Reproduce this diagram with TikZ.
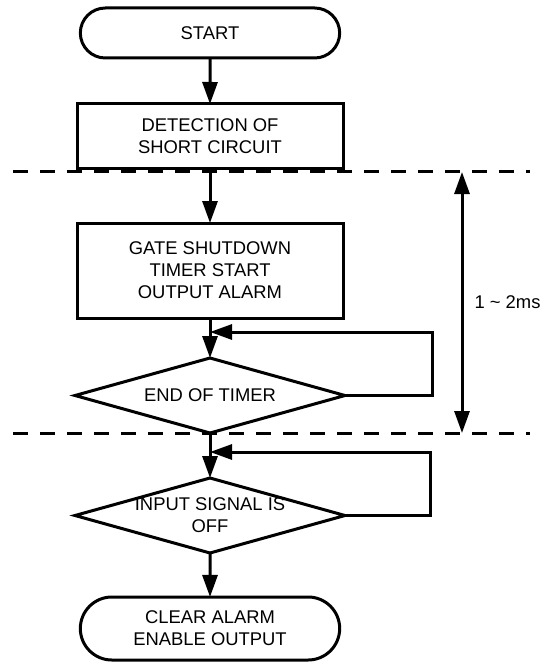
\documentclass[tikz,border=0pt]{standalone}
\usepackage{fontspec}
\setmainfont{Liberation Sans}
\usepackage{tikz}
\usetikzlibrary{shapes.geometric, shapes.misc, arrows.meta, positioning, calc}
\tikzstyle{arrow} = [line width=3pt, -{Triangle[length=22pt,width=15pt]}]
\tikzstyle{process} = [rectangle, minimum width=266pt, minimum height=64pt, align=center, draw=black, line width=3pt, outer sep=0pt]
\tikzstyle{terminal} = [rounded rectangle, minimum width=266pt, minimum height=50pt, align=center, draw=black, line width=3pt, outer sep=0pt]
\tikzstyle{decision} = [diamond, minimum width=270pt, minimum height=75pt, inner sep=0pt, draw=black, line width=3pt, outer sep=0pt]
\tikzstyle{timeline} = [line width=3pt, dash pattern=on 15pt off 12pt]

\begin{document}
\begin{tikzpicture}[x=1pt, y=-1pt, font=\fontsize{18.4}{22}\selectfont]
    \useasboundingbox (0,0) rectangle (554,666);

    % Inicio
    \node (start) [terminal] at (210,33) {START};

    % Pasos
    \node (detect) [process, below=46pt of start] {DETECTION OF\\SHORT CIRCUIT};
    \node (gate) [process, minimum height=95pt, below=55pt of detect] {GATE SHUTDOWN\\TIMER START\\OUTPUT ALARM};
    \node (timer) [decision, below=40pt of gate, label={[align=center]center:END OF TIMER}] {};
    \node (input) [decision, below=45pt of timer, label={[align=center]center:INPUT SIGNAL IS\\OFF}] {};
    \node (clear) [terminal, minimum height=63pt, below=44pt of input] {CLEAR ALARM\\ENABLE OUTPUT};

    % Flechas
    \draw [arrow] (start) -- (detect);
    \draw [arrow] (detect) -- (gate);
    \draw [arrow] (gate) -- (timer);
    \draw [arrow] (timer) -- (input);
    \draw [arrow] (input) -- (clear);

    % Lazos de espera
    \coordinate (back1) at ([yshift=-14pt]gate.south);
    \draw [arrow] (timer.east) -- ++(87,0) |- (back1);
    \coordinate (back2) at ([yshift=-19pt]timer.south);
    \draw [arrow] (input.east) -- ++(85,0) |- (back2);

    % Ventana de tiempo
    \coordinate (cut1w) at (13,171);
    \coordinate (cut1e) at (530,171);
    \coordinate (cut2w) at (13,433);
    \coordinate (cut2e) at (530,433);
    \draw [timeline] (cut1w) -- (cut1e);
    \draw [timeline] (cut2w) -- (cut2e);
    \coordinate (dimtop) at (462,172);
    \coordinate (dimbot) at (462,433);
    \draw [line width=3pt, {Triangle[length=22pt,width=15pt]}-{Triangle[length=22pt,width=15pt]}] (dimtop) -- (dimbot);
    \node (span) [right=9pt of $(dimtop)!0.5!(dimbot)$] {1 \textasciitilde{} 2ms};
\end{tikzpicture}
\end{document}
